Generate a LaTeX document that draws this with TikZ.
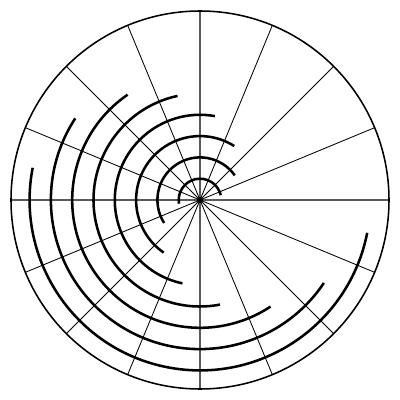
\documentclass[tikz,border=0pt]{standalone}
\begin{document}
\begin{tikzpicture}[x=0.25mm,y=0.25mm,
  spoke/.style={line width=0.6pt,black},
  axisline/.style={line width=1.4pt,black!65},
  rim/.style={line width=1.1pt,black},
  track/.style={line width=1.8pt,black,line cap=butt}]
\useasboundingbox (0,0) rectangle (400,400);
\coordinate (o) at (200,200);
\foreach \a in {22.5,45,...,337.5} \draw[spoke] (o) -- ++(\a:189);
\foreach \a in {0,90,180,270} \draw[axisline] (o) -- ++(\a:189);
\draw[rim] (o) circle (189);
\foreach \k in {1,...,8} {
  \pgfmathsetmacro\r{21.3*\k}
  \pgfmathsetmacro\s{13+22.3*(\k-1)}
  \pgfmathsetmacro\e{190+22.7*(\k-1)}
  \draw[track] (o) ++(\s:\r) arc[start angle=\s, end angle=\e, radius=\r];
}
\fill (o) circle (3);
\end{tikzpicture}
\end{document}
